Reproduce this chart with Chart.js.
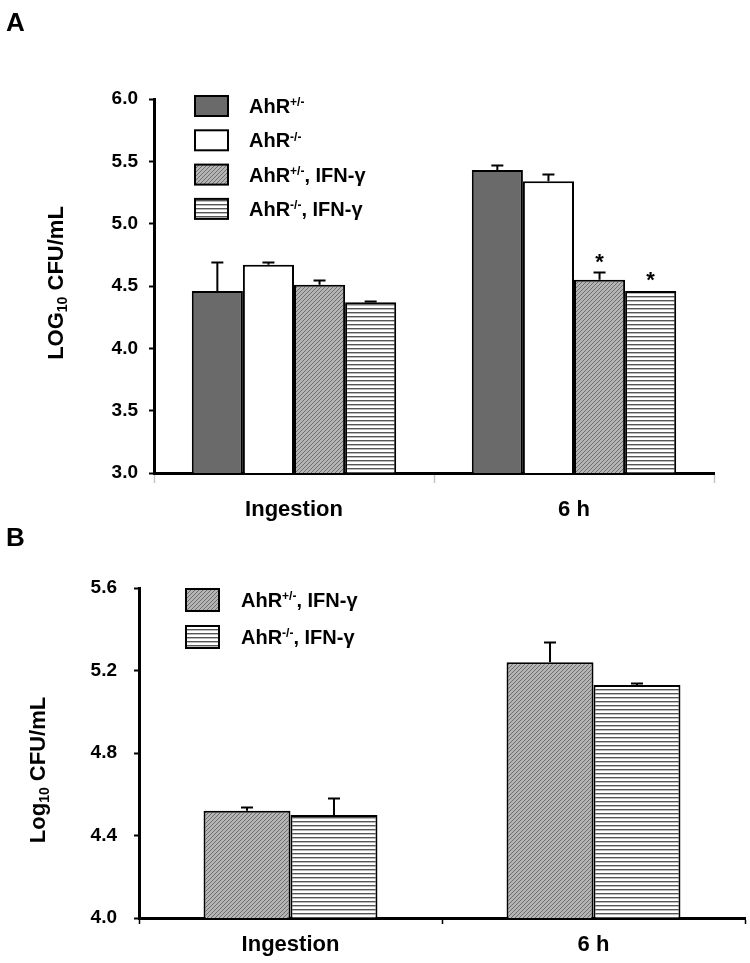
<!DOCTYPE html>
<html>
<head>
<meta charset="utf-8">
<title>AhR CFU</title>
<script src="https://cdn.jsdelivr.net/npm/chart.js@4.4.1/dist/chart.umd.min.js"></script>
<style>
    body { margin: 0; background: #fff; }
    #wrap { position: relative; width: 750px; height: 963px; }
    canvas { position: absolute; left: 0; }
    #chartA { top: 0; }
    #chartB { top: 525px; }
</style>
</head>
<body>
<div id="wrap">
    <canvas id="chartA" width="750" height="545"></canvas>
    <canvas id="chartB" width="750" height="438"></canvas>
</div>
<script>
// Panel A data
var categoriesA = ['Ingestion', '6 h'];
var yTicksA = [3.0, 3.5, 4.0, 4.5, 5.0, 5.5, 6.0];
var hetA = [4.46, 5.43];
var hetErrA = [0.23, 0.04];
var koA = [4.67, 5.34];
var koErrA = [0.02, 0.06];
var hetIfnA = [4.51, 4.55];
var hetIfnErrA = [0.04, 0.06];
var koIfnA = [4.37, 4.46];
var koIfnErrA = [0.01, 0];
var hetIfnSigA = ['', '*'];
var koIfnSigA = ['', '*'];

// Panel B data
var categoriesB = ['Ingestion', '6 h'];
var yTicksB = [4.0, 4.4, 4.8, 5.2, 5.6];
var hetIfnB = [4.52, 5.24];
var hetIfnErrB = [0.02, 0.10];
var koIfnB = [4.50, 5.13];
var koIfnErrB = [0.08, 0.01];

var FONT = '"Liberation Sans", Arial, sans-serif';

// Fill patterns
function makeHatch() {
    var c = document.createElement('canvas');
    c.width = 4; c.height = 4;
    var g = c.getContext('2d');
    g.fillStyle = '#b4b4b4';
    g.fillRect(0, 0, 4, 4);
    g.fillStyle = '#6e6e6e';
    for (var i = 0; i < 4; i++) {
        g.fillRect(i, 3 - i, 1, 1);
    }
    return g.createPattern(c, 'repeat');
}

function makeStripes() {
    var c = document.createElement('canvas');
    c.width = 4; c.height = 4;
    var g = c.getContext('2d');
    g.fillStyle = '#ffffff';
    g.fillRect(0, 0, 4, 4);
    g.fillStyle = '#555555';
    g.fillRect(0, 0, 4, 1);
    g.fillStyle = '#bbbbbb';
    g.fillRect(0, 1, 4, 1);
    return g.createPattern(c, 'repeat');
}

var hatch = makeHatch();
var stripes = makeStripes();
var darkGray = '#6a6a6a';

// Draw text made of normal / sup / sub parts, returns width
function drawParts(ctx, parts, x, y, size, measureOnly) {
    var cx = x;
    parts.forEach(function(p) {
        var s = p.sup || p.sub ? Math.round(size * 0.62) : size;
        ctx.font = 'bold ' + s + 'px ' + FONT;
        var dy = p.sup ? -size * 0.33 : (p.sub ? size * 0.2 : 0);
        if (!measureOnly) ctx.fillText(p.t, cx, y + dy);
        cx += ctx.measureText(p.t).width;
    });
    return cx - x;
}

var labelHet = [{t: 'AhR'}, {t: '+/-', sup: true}];
var labelKo = [{t: 'AhR'}, {t: '-/-', sup: true}];
var labelHetIfn = [{t: 'AhR'}, {t: '+/-', sup: true}, {t: ', IFN-\u03b3'}];
var labelKoIfn = [{t: 'AhR'}, {t: '-/-', sup: true}, {t: ', IFN-\u03b3'}];

// error bars and significance marks
var errorBarPlugin = {
    id: 'errorBars',
    afterDatasetsDraw: function(chart) {
        var ctx = chart.ctx;
        var yScale = chart.scales.y;
        ctx.save();
        ctx.strokeStyle = '#000';
        ctx.fillStyle = '#000';
        ctx.lineWidth = 2;
        chart.data.datasets.forEach(function(ds, i) {
            var meta = chart.getDatasetMeta(i);
            meta.data.forEach(function(bar, j) {
                var top = bar.y;
                var err = ds.errors ? ds.errors[j] : 0;
                if (err > 0) {
                    var yE = Math.round(yScale.getPixelForValue(ds.data[j] + err)) + 0.5;
                    ctx.beginPath();
                    ctx.moveTo(bar.x, top);
                    ctx.lineTo(bar.x, yE);
                    ctx.moveTo(bar.x - 6, yE);
                    ctx.lineTo(bar.x + 6, yE);
                    ctx.stroke();
                    top = yE;
                }
                if (ds.sig && ds.sig[j]) {
                    ctx.font = 'bold 22px ' + FONT;
                    ctx.textAlign = 'center';
                    ctx.textBaseline = 'alphabetic';
                    ctx.fillText(ds.sig[j], bar.x, top - 4);
                }
            });
        });
        ctx.restore();
    }
};

// legend, y title and panel letter
function decorPlugin(cfg) {
    return {
        id: 'decor',
        afterDraw: function(chart) {
            var ctx = chart.ctx;
            ctx.save();
            ctx.fillStyle = '#000';
            ctx.textAlign = 'left';
            ctx.textBaseline = 'alphabetic';
            // panel letter
            ctx.font = 'bold 26px ' + FONT;
            ctx.fillText(cfg.letter, cfg.letterX, cfg.letterY);
            // legend
            cfg.legend.forEach(function(item, k) {
                var cy = cfg.legY + k * cfg.legDy;
                ctx.fillStyle = item.fill;
                ctx.fillRect(cfg.legX, cy - cfg.swH / 2, 33, cfg.swH);
                ctx.strokeStyle = '#000';
                ctx.lineWidth = 2;
                ctx.strokeRect(cfg.legX, cy - cfg.swH / 2, 33, cfg.swH);
                ctx.fillStyle = '#000';
                drawParts(ctx, item.parts, cfg.legTextX, cy + 7, 20);
            });
            // y title, rotated
            ctx.translate(cfg.titleX, cfg.titleY);
            ctx.rotate(-Math.PI / 2);
            var w = drawParts(ctx, cfg.title, 0, 0, 22, true);
            drawParts(ctx, cfg.title, -w / 2, 0, 22);
            ctx.restore();
        }
    };
}

function makeChart(id, cats, ticks, datasets, geo, decor) {
    return new Chart(document.getElementById(id), {
        type: 'bar',
        data: { labels: cats, datasets: datasets },
        options: {
            responsive: false,
            animation: false,
            devicePixelRatio: 1,
            layout: { padding: { top: geo.top, right: geo.right, left: 0, bottom: 0 } },
            plugins: { legend: { display: false }, tooltip: { enabled: false } },
            datasets: { bar: { categoryPercentage: geo.catPct, barPercentage: 1.0 } },
            scales: {
                x: {
                    grid: { offset: true, drawOnChartArea: false, tickLength: geo.xTickLen, tickColor: geo.xTickColor, tickWidth: 1.5 },
                    border: { display: true, color: '#000', width: 3 },
                    ticks: { color: '#000', padding: geo.xPad, font: { family: FONT, size: 22, weight: 'bold' } },
                    afterFit: function(s) { s.height = geo.xHeight; }
                },
                y: {
                    min: ticks[0],
                    max: ticks[ticks.length - 1],
                    afterBuildTicks: function(s) { s.ticks = ticks.map(function(v) { return { value: v }; }); },
                    grid: { drawOnChartArea: false, tickLength: 5, tickColor: '#000', tickWidth: 2 },
                    border: { display: true, color: '#000', width: 3 },
                    ticks: {
                        color: '#000', padding: geo.yPad,
                        font: { family: FONT, size: 19, weight: 'bold' },
                        callback: function(v) { return Number(v).toFixed(1); }
                    },
                    afterFit: function(s) { s.width = geo.yWidth; }
                }
            }
        },
        plugins: [errorBarPlugin, decorPlugin(decor)]
    });
}

makeChart('chartA', categoriesA, yTicksA, [
    { label: 'AhR+/-', data: hetA, errors: hetErrA, backgroundColor: darkGray, borderColor: '#000', borderWidth: 2 },
    { label: 'AhR-/-', data: koA, errors: koErrA, backgroundColor: '#fff', borderColor: '#000', borderWidth: 2 },
    { label: 'AhR+/-, IFN-g', data: hetIfnA, errors: hetIfnErrA, sig: hetIfnSigA, backgroundColor: hatch, borderColor: '#000', borderWidth: 2 },
    { label: 'AhR-/-, IFN-g', data: koIfnA, errors: koIfnErrA, sig: koIfnSigA, backgroundColor: stripes, borderColor: '#000', borderWidth: 2 }
], {
    top: 99, right: 36, yWidth: 154, xHeight: 72, catPct: 0.73,
    xPad: 14, yPad: 11, xTickLen: 10, xTickColor: '#c4c4c4'
}, {
    letter: 'A', letterX: 6, letterY: 31,
    legX: 195, legY: 106, legDy: 34.3, swH: 20, legTextX: 249,
    legend: [
        { fill: darkGray, parts: labelHet },
        { fill: '#fff', parts: labelKo },
        { fill: hatch, parts: labelHetIfn },
        { fill: stripes, parts: labelKoIfn }
    ],
    titleX: 63, titleY: 283,
    title: [{t: 'LOG'}, {t: '10', sub: true}, {t: ' CFU/mL'}]
});

makeChart('chartB', categoriesB, yTicksB, [
    { label: 'AhR+/-, IFN-g', data: hetIfnB, errors: hetIfnErrB, backgroundColor: hatch, borderColor: '#000', borderWidth: 2 },
    { label: 'AhR-/-, IFN-g', data: koIfnB, errors: koIfnErrB, backgroundColor: stripes, borderColor: '#000', borderWidth: 2 }
], {
    top: 63, right: 5, yWidth: 139, xHeight: 45, catPct: 0.574,
    xPad: 8, yPad: 17, xTickLen: 6, xTickColor: '#000'
}, {
    letter: 'B', letterX: 6, letterY: 21,
    legX: 186, legY: 75, legDy: 37, swH: 22, legTextX: 241,
    legend: [
        { fill: hatch, parts: labelHetIfn },
        { fill: stripes, parts: labelKoIfn }
    ],
    titleX: 45, titleY: 245,
    title: [{t: 'Log'}, {t: '10', sub: true}, {t: ' CFU/mL'}]
});
</script>
</body>
</html>
